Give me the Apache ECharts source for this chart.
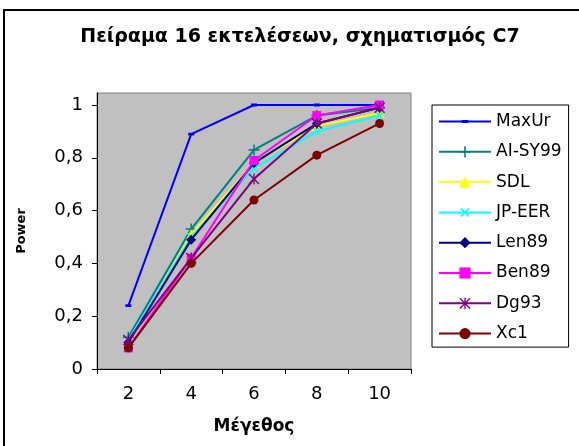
<!DOCTYPE html>
<html><head><meta charset="utf-8">
<script src="https://cdn.jsdelivr.net/npm/echarts@6/dist/echarts.min.js"></script>
<style>html,body{margin:0;padding:0;background:#fff}#c{width:579px;height:446px}</style>
</head><body><div id="c"></div>
<script>
const categories = ['2', '4', '6', '8', '10'];
const yTicks = [0, 0.2, 0.4, 0.6, 0.8, 1];
const seriesNames = ['MaxUr', 'AI-SY99', 'SDL', 'JP-EER', 'Len89', 'Ben89', 'Dg93', 'Xc1'];
const MaxUr  = [0.24, 0.89, 1.00, 1.00, 1.00];
const AISY99 = [0.12, 0.53, 0.83, 0.96, 0.99];
const SDL    = [0.10, 0.51, 0.78, 0.92, 0.97];
const JPEER  = [0.11, 0.50, 0.76, 0.90, 0.96];
const Len89  = [0.10, 0.49, 0.78, 0.93, 0.99];
const Ben89  = [0.08, 0.42, 0.79, 0.96, 1.00];
const Dg93   = [0.11, 0.42, 0.72, 0.93, 0.99];
const Xc1    = [0.08, 0.40, 0.64, 0.81, 0.93];
const seriesData = [MaxUr, AISY99, SDL, JPEER, Len89, Ben89, Dg93, Xc1];

const FONT = '"DejaVu Sans", Arial, sans-serif';
const dashPath = 'path://M0,0L0.01,0L0.01,0.01ZM2,3.6L8,3.6L8,6.4L2,6.4ZM9.99,9.99L10,9.99L10,10Z';
const plusPath = 'path://M4.3,0L5.7,0L5.7,4.3L10,4.3L10,5.7L5.7,5.7L5.7,10L4.3,10L4.3,5.7L0,5.7L0,4.3L4.3,4.3Z';
const starPath = 'path://M4.4,0L5.6,0L5.6,10L4.4,10ZM0,0.9L0.9,0L10,9.1L9.1,10ZM9.1,0L10,0.9L0.9,10L0,9.1Z';
const styles = [
  {color: '#0000ff', symbol: dashPath, size: 10},
  {color: '#008080', symbol: plusPath, size: 11},
  {color: '#ffff00', symbol: 'triangle', size: 10},
  {color: '#00ffff', symbol: plusPath, size: 11, rotate: 45},
  {color: '#000080', symbol: 'diamond', size: 10},
  {color: '#ff00ff', symbol: 'rect', size: 9},
  {color: '#800080', symbol: starPath, size: 11},
  {color: '#800000', symbol: 'circle', size: 9}
];

const series = seriesNames.map((name, i) => ({
  name: name,
  type: 'line',
  data: seriesData[i],
  symbol: styles[i].symbol,
  symbolSize: styles[i].size,
  symbolRotate: styles[i].rotate || 0,
  showAllSymbol: true,
  lineStyle: {color: styles[i].color, width: 2},
  itemStyle: {color: styles[i].color},
  emphasis: {disabled: true},
  z: 2 + i
}));

const chart = echarts.init(document.getElementById('c'), null, {renderer: 'canvas'});
chart.setOption({
  animation: false,
  backgroundColor: '#ffffff',
  title: {
    text: 'Πείραμα 16 εκτελέσεων, σχηματισμός C7',
    left: 295, top: 23, textAlign: 'center',
    textStyle: {fontFamily: FONT, fontSize: 19, fontWeight: 'bold', color: '#000'}
  },
  graphic: [{
    type: 'rect', z: -1, silent: true,
    shape: {x: 4, y: 10, width: 620, height: 500},
    style: {fill: 'none', stroke: '#000', lineWidth: 2}
  }],
  grid: {
    left: 97, right: 168, top: 93, bottom: 77,
    show: true, backgroundColor: '#c0c0c0', borderColor: '#808080', borderWidth: 1
  },
  legend: {
    orient: 'vertical', left: 432, top: 105,
    padding: [8, 7, 5, 6],
    itemWidth: 52, itemHeight: 14, itemGap: 13.3,
    borderColor: '#000', borderWidth: 1,
    backgroundColor: '#fff',
    textStyle: {fontFamily: FONT, fontSize: 17, color: '#000'},
    data: seriesNames
  },
  xAxis: {
    type: 'category', data: categories, boundaryGap: true,
    name: 'Μέγεθος', nameLocation: 'middle', nameGap: 49,
    nameTextStyle: {fontFamily: FONT, fontSize: 17, fontWeight: 'bold', color: '#000'},
    axisLine: {show: true, lineStyle: {color: '#000', width: 1}},
    axisTick: {show: true, length: 5, lineStyle: {color: '#000'}},
    axisLabel: {fontFamily: FONT, fontSize: 18, color: '#000', margin: 16},
    splitLine: {show: false}
  },
  yAxis: {
    type: 'value', min: 0, max: 276 / 264, interval: 0.2,
    name: 'Power', nameLocation: 'middle', nameGap: 69,
    nameTextStyle: {fontFamily: FONT, fontSize: 13, fontWeight: 'bold', color: '#000'},
    axisLine: {show: true, lineStyle: {color: '#000', width: 1}},
    axisTick: {show: true, length: 5, lineStyle: {color: '#000'}, customValues: yTicks},
    axisLabel: {
      fontFamily: FONT, fontSize: 18, color: '#000', margin: 14,
      customValues: yTicks,
      formatter: v => String(Math.round(v * 10) / 10).replace('.', ',')
    },
    splitLine: {show: false}
  },
  series: series
});
</script>
</body></html>
